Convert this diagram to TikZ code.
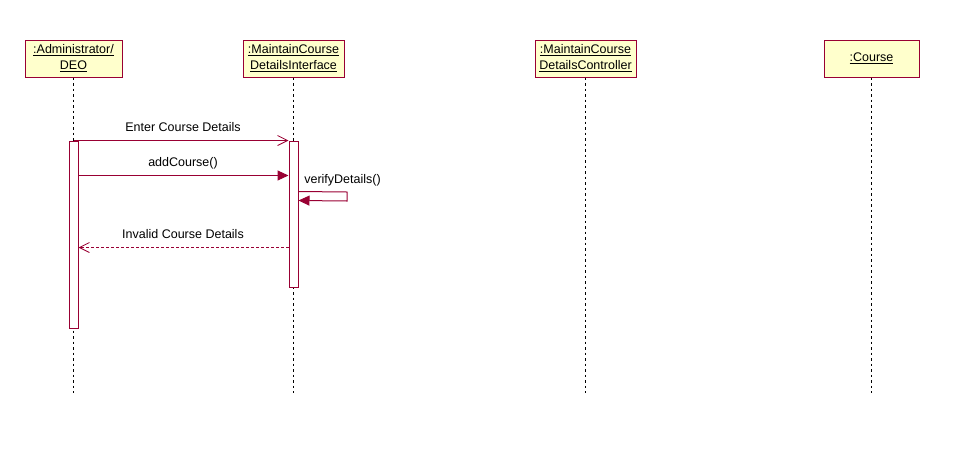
\documentclass[tikz,border=0pt]{standalone}
\usepackage{fontspec}
\setmainfont{Liberation Sans}
\usetikzlibrary{arrows.meta}
\definecolor{umlred}{RGB}{153,0,51}
\definecolor{umlfill}{RGB}{255,255,204}
\begin{document}
\begin{tikzpicture}[x=1pt,y=-1pt,
  font=\fontsize{12.5}{16}\selectfont,
  obj/.style={draw=umlred,fill=umlfill,line width=1pt,minimum height=37pt,inner sep=0pt,align=center},
  act/.style={draw=umlred,fill=white,line width=1pt,minimum width=9pt,inner sep=0pt},
  life/.style={draw=black,line width=0.9pt,dash pattern=on 2.5pt off 3pt},
  msg/.style={draw=umlred,line width=1pt},
  openhead/.style={-{Straight Barb[length=10pt,width=10pt,line width=0.8pt]}},
  fillhead/.style={-{Triangle[length=11pt,width=10pt]}},
  lbl/.style={inner sep=0pt,anchor=base}]
\useasboundingbox (0,0) rectangle (964,459);
% objects
\node[obj,minimum width=97pt] (a) at (73.5,58.5) {\underline{:Administrator/}\\\underline{DEO}};
\node[obj,minimum width=101pt] (i) at (293.5,58.5) {\underline{:MaintainCourse}\\\underline{DetailsInterface}};
\node[obj,minimum width=101pt] (c) at (585.5,58.5) {\underline{:MaintainCourse}\\\underline{DetailsController}};
\node[obj,minimum width=95pt] (k) at (871.5,58.5) {\underline{:Course}};
% lifeline ends
\coordinate (aend) at (73.5,393);
\coordinate (iend) at (293.5,393);
\coordinate (cend) at (585.5,393);
\coordinate (kend) at (871.5,393);
\draw[life] (a.south) -- (aend);
\draw[life] (i.south) -- (iend);
\draw[life] (c.south) -- (cend);
\draw[life] (k.south) -- (kend);
% activations
\node[act,minimum height=187pt] (aa) at (73.5,234.5) {};
\node[act,minimum height=146pt] (ia) at (293.5,214) {};
% messages
\draw[msg,openhead] (aa.north) -- (ia.north west);
\node[lbl] (m1) at (183,131) {Enter Course Details};
\draw[msg,fillhead] ([yshift=-35pt]aa.north east) -- ([yshift=-35pt]ia.north west);
\node[lbl] (m2) at (183,166) {addCourse()};
\coordinate (s1) at ([yshift=-51pt]ia.north east);
\coordinate (s2) at (347,192);
\coordinate (s3) at (347,201);
\draw[msg,fillhead] (s1) -- (s2) -- (s3) -- ([yshift=-60pt]ia.north east);
\node[lbl] (m3) at (342.5,183) {verifyDetails()};
\draw[msg,openhead,dash pattern=on 3pt off 2pt] ([yshift=-107pt]ia.north west) -- ([yshift=-107pt]aa.north east);
\node[lbl] (m4) at (183,238) {Invalid Course Details};
\end{tikzpicture}
\end{document}
